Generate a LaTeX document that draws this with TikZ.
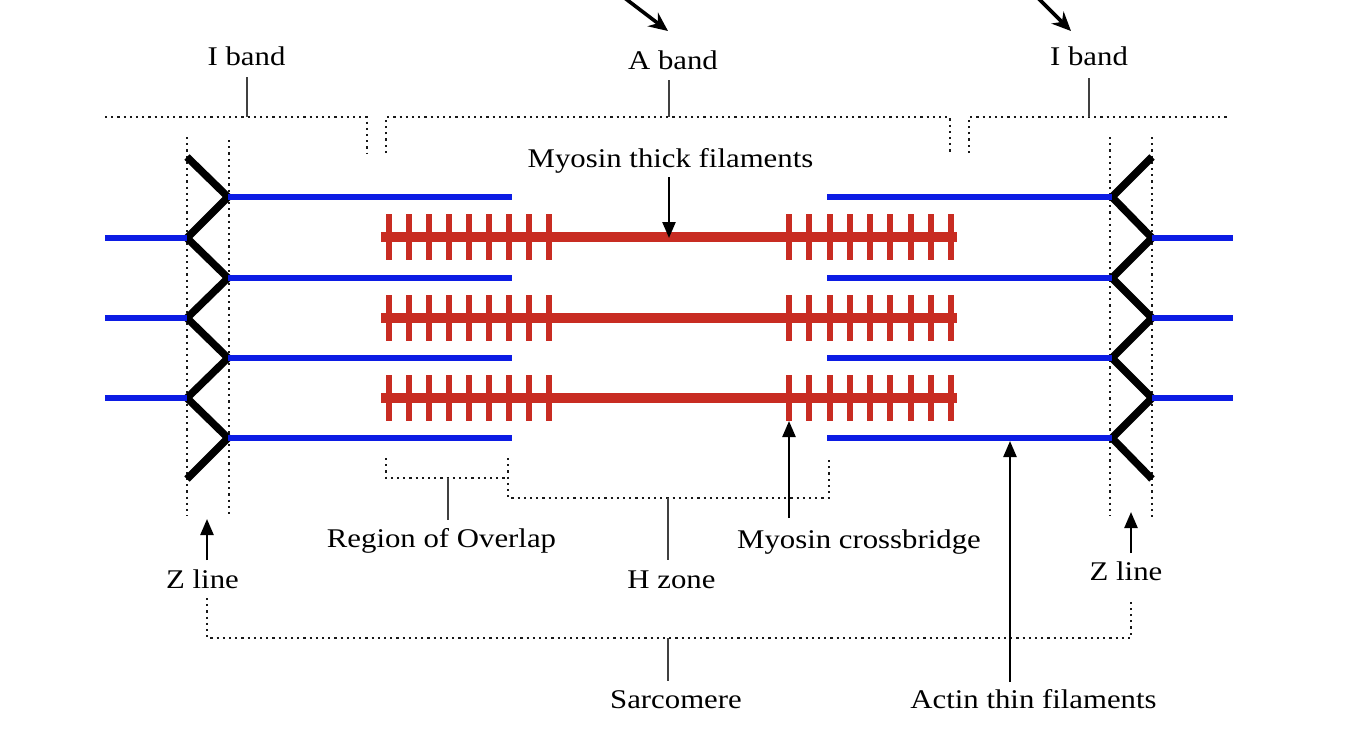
\documentclass[tikz,border=0pt]{standalone}
\usepackage{fontspec}
\setmainfont{Liberation Serif}[FakeStretch=1.14]
\usetikzlibrary{arrows.meta}
\definecolor{actin}{RGB}{12,28,228}
\definecolor{myosin}{RGB}{200,44,34}
\begin{document}
\begin{tikzpicture}[x=1pt,y=-1pt,
  lbl/.style={font=\fontsize{27}{30}\selectfont, inner sep=0pt, anchor=base, text=black},
  dotl/.style={line width=2pt, dash pattern=on 2.2pt off 4pt, black!90},
  tickl/.style={line width=2.6pt, black!75},
  arr/.style={line width=2.4pt, black, -{Triangle[length=16pt,width=13pt]}},
  toparr/.style={line width=3.6pt, black, -{Stealth[length=19pt,width=17pt]}},
  act/.style={line width=6pt, actin},
  zz/.style={line width=7.5pt, black, line join=miter},
  myo/.style={line width=10.5pt, myosin},
  cb/.style={line width=6pt, myosin}]
\useasboundingbox (0,0) rectangle (1360,734);
\fill[white] (0,0) rectangle (1360,734);

% ---------- labels ----------
\node[lbl] (ibl) at (246.5,65) {I band};
\node[lbl] (ab)  at (673,69) {A band};
\node[lbl] (ibr) at (1089,65) {I band};
\node[lbl] (mt)  at (670.5,167) {Myosin thick filaments};
\node[lbl] (ro)  at (441.5,547) {Region of Overlap};
\node[lbl] (mc)  at (859,548) {Myosin crossbridge};
\node[lbl] (hz)  at (671.5,588) {H zone};
\node[lbl] (zl)  at (202.5,588) {Z line};
\node[lbl] (zr)  at (1126,580) {Z line};
\node[lbl] (sc)  at (676,708) {Sarcomere};
\node[lbl] (at)  at (1033.5,708) {Actin thin filaments};

% ---------- top arrows ----------
\coordinate (ta1s) at (622,-4); \coordinate (ta1e) at (668,31);
\coordinate (ta2s) at (1036,-4); \coordinate (ta2e) at (1071,31);
\draw[toparr] (ta1s) -- (ta1e);
\draw[toparr] (ta2s) -- (ta2e);

% ---------- dotted brackets ----------
\draw[dotl] (105,117) -- (367,117) -- (367,153);
\draw[dotl] (386,153) -- (386,117) -- (950,117) -- (950,153);
\draw[dotl] (969,153) -- (969,117) -- (1230,117);
\draw[dotl] (187,137) -- (187,516);
\draw[dotl] (229,140) -- (229,518);
\draw[dotl] (1110,137) -- (1110,516);
\draw[dotl] (1152,137) -- (1152,518);
\draw[dotl] (386,458) -- (386,478) -- (508,478);
\draw[dotl] (508,458) -- (508,498) -- (829,498) -- (829,458);
\draw[dotl] (207,598) -- (207,638) -- (1131,638) -- (1131,598);

% ---------- solid ticks ----------
\coordinate (t1) at (247,117); \coordinate (t2) at (669,117); \coordinate (t3) at (1089,117);
\coordinate (t4) at (448,478); \coordinate (t5) at (668,498); \coordinate (t6) at (668,638);
\draw[tickl] (t1) -- (247,77);
\draw[tickl] (t2) -- (669,80);
\draw[tickl] (t3) -- (1089,78);
\draw[tickl] (t4) -- (448,520);
\draw[tickl] (t5) -- (668,560);
\draw[tickl] (t6) -- (668,681);

% ---------- Z lines (zigzags) ----------
\draw[zz] (187,157) -- (228,197) -- (187,238) -- (228,278) -- (187,318)
  -- (228,358) -- (187,398) -- (228,438) -- (187,479);
\draw[zz] (1152,157) -- (1112,197) -- (1152,238) -- (1112,278) -- (1152,318)
  -- (1112,358) -- (1152,398) -- (1112,438) -- (1152,479);

% ---------- actin ----------
\foreach \y in {197,278,358,438} {
  \draw[act] (228,\y) -- (512,\y);
  \draw[act] (827,\y) -- (1112,\y);
}
\foreach \y in {238,318,398} {
  \draw[act] (105,\y) -- (187,\y);
  \draw[act] (1152,\y) -- (1233,\y);
}

% ---------- myosin ----------
\foreach \y in {237,318,398} {
  \draw[myo] (381,\y) -- (957,\y);
  \foreach \i in {0,...,8} {
    \draw[cb] ({389+20*\i},\y-23) -- ({389+20*\i},\y+23);
    \draw[cb] ({789+20.25*\i},\y-23) -- ({789+20.25*\i},\y+23);
  }
}

% ---------- pointer arrows ----------
\coordinate (a1s) at (669,177); \coordinate (a1e) at (669,238);
\coordinate (a2s) at (789,518); \coordinate (a2e) at (789,421);
\coordinate (a3s) at (207,560); \coordinate (a3e) at (207,519);
\coordinate (a4s) at (1131,553); \coordinate (a4e) at (1131,512);
\coordinate (a5s) at (1010,682); \coordinate (a5e) at (1010,441);
\draw[arr] (a1s) -- (a1e);
\draw[arr] (a2s) -- (a2e);
\draw[arr] (a3s) -- (a3e);
\draw[arr] (a4s) -- (a4e);
\draw[arr] (a5s) -- (a5e);
\end{tikzpicture}
\end{document}
